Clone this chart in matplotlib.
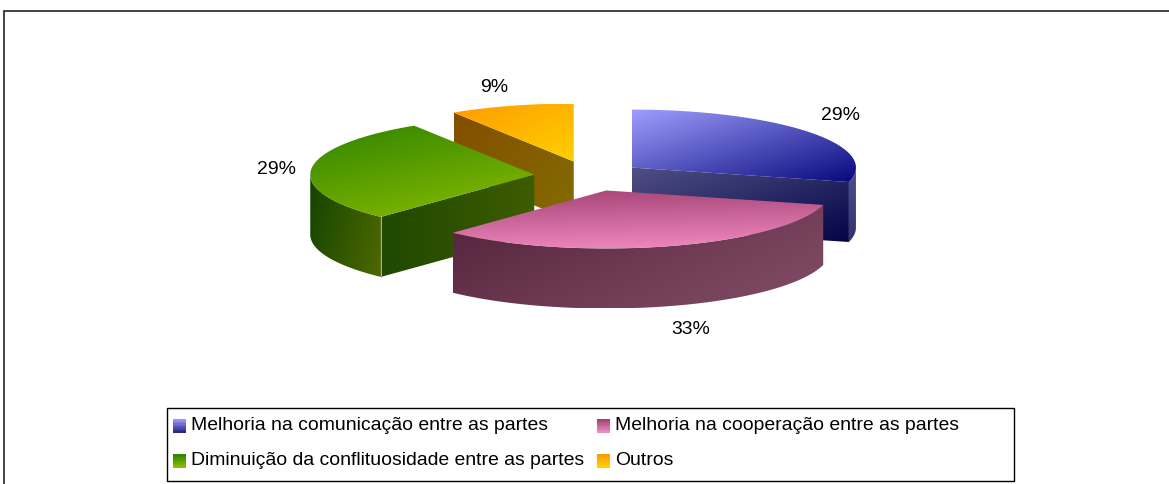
import numpy as np
import matplotlib
matplotlib.use("Agg")
import matplotlib.pyplot as plt
from matplotlib.patches import Polygon, Rectangle
from matplotlib.legend_handler import HandlerBase

plt.rcParams['font.family'] = ['Liberation Sans', 'DejaVu Sans']

# ---- data ----
categories = ["Melhoria na comunicação entre as partes",
              "Melhoria na cooperação entre as partes",
              "Diminuição da conflituosidade entre as partes",
              "Outros"]
values = [29, 33, 29, 9]

# ---- styles: (start colour, end colour, gradient direction u, v) ----
top_grad = [((158, 158, 255), (8, 8, 125), 1.0, 1.0),
            ((165, 68, 118), (242, 138, 192), 0.15, 1.0),
            ((48, 132, 0), (140, 190, 0), 0.55, 1.0),
            ((255, 155, 0), (255, 208, 0), 1.0, 1.0)]
cut_grad = [((80, 80, 132), (4, 4, 72), 1.0, 1.0),
            None,
            ((32, 72, 0), (62, 92, 0), 1.0, 0.0),
            ((132, 78, 0), (130, 108, 0), 1.0, 0.6)]
cut_edge = ["end", None, "start", "start"]
rim_grad = [((80, 80, 140), (50, 50, 110), 0.0, 1.0),
            ((84, 34, 60), (132, 78, 104), 1.0, 0.6),
            ((20, 68, 0), (78, 104, 0), 1.0, 0.3),
            None]
key_grad = [((150, 150, 250), (40, 40, 140)),
            ((165, 68, 118), (242, 138, 192)),
            ((48, 132, 0), (140, 190, 0)),
            ((255, 155, 0), (255, 208, 0))]
label_xy = [(840, 115), (691, 330), (276, 169), (494, 87)]
explode = [0.237, 0.26, 0.25, 0.26]

# ---- geometry of the 3-D pie, in figure pixels ----
CX, CY, RX, RY = 590, 176, 224, 58
DEPTH = 60

fig = plt.figure(figsize=(11.69, 4.84), dpi=100)
ax = fig.add_axes([0, 0, 1, 1])
ax.axis("off")


def pt(a, ox, oy, dz=0.0):
    r = np.radians(a)
    return ox + RX * np.sin(r), oy - RY * np.cos(r) + dz


def arc(a1, a2, ox, oy, dz=0.0):
    t = np.linspace(a1, a2, max(int(abs(a2 - a1)) * 2, 2))
    x, y = pt(t, ox, oy, dz)
    return np.column_stack([x, y])


def gradient_fill(poly, grad, zorder):
    c0, c1, a, b = grad
    x0, y0 = poly.min(axis=0)
    x1, y1 = poly.max(axis=0)
    u, v = np.meshgrid(np.linspace(0, 1, 96), np.linspace(0, 1, 96))
    t = ((a * u + b * v) / (a + b))[..., None]
    rgb = np.clip((np.array(c0) * (1 - t) + np.array(c1) * t) / 255, 0, 1)
    im = ax.imshow(rgb, extent=(x0, x1, y1, y0), origin="upper", aspect="auto",
                   interpolation="bilinear", zorder=zorder)
    clip = Polygon(poly, closed=True, transform=ax.transData)
    im.set_clip_path(clip)


cum = np.concatenate([[0], np.cumsum(values)]) / np.sum(values) * 360
z = 2
for i in [0, 3, 2, 1]:
    a1, a2 = cum[i], cum[i + 1]
    mid = np.radians((a1 + a2) / 2)
    ox = CX + explode[i] * RX * np.sin(mid)
    oy = CY - explode[i] * RY * np.cos(mid)
    # cut face leaving the apex, seen from the front
    if cut_grad[i] is not None:
        edge = a2 if cut_edge[i] == "end" else a1
        ex, ey = pt(edge, ox, oy)
        face = np.array([[ox, oy], [ex, ey], [ex, ey + DEPTH], [ox, oy + DEPTH]])
        gradient_fill(face, cut_grad[i], z)
        z += 1
    # outer rim, the part turned towards the viewer
    lo, hi = max(a1, 90), min(a2, 270)
    if hi > lo and rim_grad[i] is not None:
        rim = np.vstack([arc(lo, hi, ox, oy), arc(hi, lo, ox, oy, DEPTH)])
        gradient_fill(rim, rim_grad[i], z)
        z += 1
    # top face
    top = np.vstack([[ox, oy], arc(a1, a2, ox, oy)])
    gradient_fill(top, top_grad[i], z)
    z += 1
    if i == 2:
        ex, ey = pt(a1, ox, oy)
        ax.plot([ex, ex], [ey, ey + DEPTH], color="#a9b88a", lw=0.7, zorder=z)
        z += 1

for (lx, ly), v in zip(label_xy, values):
    ax.text(lx, ly, f"{v}%", ha="center", va="center", fontsize=13.95, color="black", zorder=30)

# outer frame (only top and left edges are inside the picture) and legend box
ax.plot([1169, 3.5, 3.5], [10.5, 10.5, 484], color="#222222", lw=1.2, zorder=1,
        solid_joinstyle="miter")
ax.add_patch(Rectangle((166.5, 407.5), 847, 73, fc="white", ec="black", lw=1, zorder=25))


class GradientKey(HandlerBase):
    def __init__(self, colors):
        super().__init__()
        self.colors = colors

    def create_artists(self, legend, orig, xd, yd, w, h, fs, trans):
        c0, c1 = self.colors
        n = 10
        out = []
        for k in range(n):
            t = k / (n - 1)
            col = np.clip((np.array(c0) * (1 - t) + np.array(c1) * t) / 255, 0, 1)
            out.append(Rectangle((-xd, -yd + h * (1 - (k + 1) / n) - 2), w, h / n + 0.3,
                                 fc=col, ec="none", transform=trans))
        return out


handles = [Rectangle((0, 0), 1, 1, label=c) for c in categories]
leg = ax.legend(handles=[handles[0], handles[2], handles[1], handles[3]],
                labels=[categories[0], categories[2], categories[1], categories[3]],
                ncol=2, frameon=False, loc="upper left",
                bbox_to_anchor=(173 / 1169, 1 - 417 / 484), bbox_transform=fig.transFigure,
                fontsize=13.95, handlelength=0.68, handleheight=0.68, handletextpad=0.26,
                columnspacing=0.66, labelspacing=0.9, borderpad=0.0, borderaxespad=0.0,
                handler_map={handles[i]: GradientKey(key_grad[i]) for i in range(4)})
leg.set_zorder(26)

ax.set_xlim(0, 1169)
ax.set_ylim(484, 0)
fig.savefig("out.png", dpi=100, facecolor="white")
